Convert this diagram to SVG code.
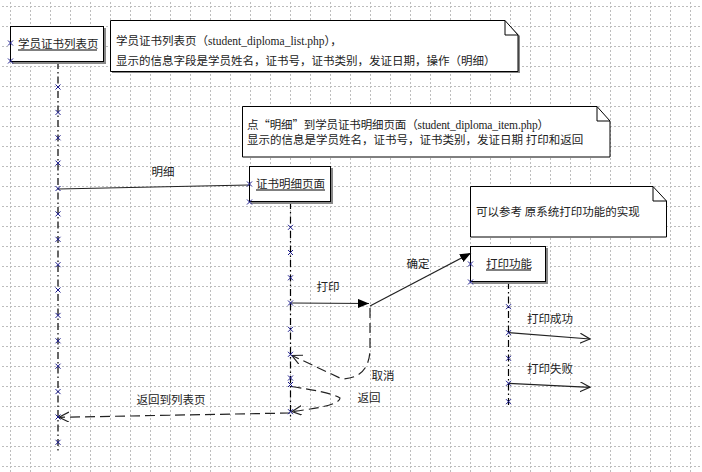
<svg xmlns="http://www.w3.org/2000/svg" width="702" height="472" viewBox="0 0 702 472">
<style>
text{font-family:"Liberation Serif","Noto Sans CJK SC",serif;font-size:11.5px;fill:#222}
.cjk{font-family:"Noto Sans CJK SC",sans-serif}
.box{fill:#fff;stroke:#000;stroke-width:1}
.shadow{fill:#888;stroke:none}
.ul{stroke:#555;stroke-width:1.5}
.life{stroke:#000;stroke-width:1.2;stroke-dasharray:7 3 1.5 3;fill:none}
.msg{stroke:#222;stroke-width:1.2;fill:none}
.dash{stroke:#222;stroke-width:1.2;fill:none;stroke-dasharray:10 5}
.lbl{text-anchor:middle}
</style>
<defs>
<pattern id="grid" patternUnits="userSpaceOnUse" x="10" y="6" width="20" height="20">
<path d="M0.5,0 V20" stroke="#bdbdbd" stroke-width="1" stroke-dasharray="2 2"/>
<path d="M0,0.5 H20" stroke="#bdbdbd" stroke-width="1" stroke-dasharray="2 2"/>
</pattern>
<path id="x" d="M-2.5,-2.5 L2.5,2.5 M2.5,-2.5 L-2.5,2.5" stroke="#1a1a8c" stroke-width="1" fill="none"/>
<marker id="fill" markerUnits="userSpaceOnUse" markerWidth="12" markerHeight="10" refX="11" refY="4.5" orient="auto">
<path d="M0,0 L11,4.5 L0,9 Z" fill="#000"/>
</marker>
<marker id="open" markerUnits="userSpaceOnUse" markerWidth="12" markerHeight="12" refX="10" refY="5" orient="auto">
<path d="M0,0 L10,5 L0,10" fill="none" stroke="#222" stroke-width="1.2"/>
</marker>
</defs>
<rect width="702" height="472" fill="#fff"/>
<rect width="702" height="472" fill="url(#grid)"/>

<g id="lifelines">
<line class="life" x1="58" y1="62" x2="58" y2="452"/>
<line class="life" x1="290.5" y1="202" x2="290.5" y2="420"/>
<line class="life" x1="508.5" y1="282" x2="508.5" y2="408"/>
</g>

<g id="node-list">
<rect class="shadow" x="12" y="28" width="94" height="36"/>
<rect class="box" x="10.5" y="26.5" width="93" height="35"/>
<text x="18" y="48">学员证书列表页</text>
<line class="ul" x1="18" y1="50" x2="97" y2="50"/>
</g>

<g id="node-item">
<rect class="shadow" x="251" y="168" width="82" height="36"/>
<rect class="box" x="249.5" y="166.5" width="81" height="35"/>
<text x="256" y="188">证书明细页面</text>
<line class="ul" x1="256" y1="190" x2="325" y2="190"/>
</g>

<g id="node-print">
<rect class="shadow" x="472" y="248" width="76" height="36"/>
<rect class="box" x="470.5" y="246.5" width="75" height="35"/>
<text x="486" y="268">打印功能</text>
<line class="ul" x1="486" y1="270" x2="531" y2="270"/>
</g>

<g id="note1">
<path class="shadow" d="M112,23 H507 L520,36 V73 H112 Z"/>
<path class="box" d="M110.5,20.5 H505 L518,35 V71.5 H110.5 Z"/>
<path d="M505,20.5 V35 H518" fill="none" stroke="#000"/>
<text x="116" y="45">学员证书列表页（student_diploma_list.php），</text>
<text x="116" y="65">显示的信息字段是学员姓名，证书号，证书类别，发证日期，操作（明细）</text>
</g>

<g id="note2">
<path class="box" d="M242.5,106.5 H597 L610,121 V157 H242.5 Z"/>
<path d="M597,106.5 V121 H610" fill="none" stroke="#000"/>
<text x="247" y="129" textLength="302" lengthAdjust="spacing">点<tspan class="cjk">“</tspan>明细<tspan class="cjk">”</tspan>到学员证书明细页面（student_diploma_item.php）</text>
<text x="247" y="143.5">显示的信息是学员姓名，证书号，证书类别，发证日期 打印和返回</text>
</g>

<g id="note3">
<path class="box" d="M470.5,186.5 H653 L666.5,201 V237 H470.5 Z"/>
<path d="M653,186.5 V201 H666.5" fill="none" stroke="#000"/>
<text x="476" y="216">可以参考 原系统打印功能的实现</text>
</g>

<g id="connectors">
<line class="msg" x1="58" y1="189" x2="249" y2="185"/>
<text class="lbl" x="163" y="176">明细</text>
<line class="msg" x1="290.5" y1="303" x2="369" y2="303.5" marker-end="url(#fill)"/>
<text class="lbl" x="328" y="291">打印</text>
<line class="msg" x1="370" y1="306" x2="471" y2="253" marker-end="url(#fill)"/>
<text class="lbl" x="418" y="268">确定</text>
<path class="dash" d="M370,308 L370,350 Q369,378 342,379 L292,355.5" marker-end="url(#open)"/>
<text class="lbl" x="383" y="380">取消</text>
<path class="dash" d="M291,386.5 Q330,392 340,398 Q340,406 292,411.5" marker-end="url(#open)"/>
<text class="lbl" x="369" y="402">返回</text>
<line class="dash" x1="290" y1="413" x2="59" y2="417.3" marker-end="url(#open)"/>
<text class="lbl" x="171" y="404">返回到列表页</text>
<line class="msg" x1="508.5" y1="332.7" x2="590" y2="339" marker-end="url(#open)"/>
<text class="lbl" x="550" y="323">打印成功</text>
<line class="msg" x1="508.5" y1="383.3" x2="590" y2="387.3" marker-end="url(#open)"/>
<text class="lbl" x="550" y="373">打印失败</text>
</g>

<g id="markers">
<use href="#x" x="10.5" y="43"/><use href="#x" x="10.5" y="61"/>
<use href="#x" x="249.5" y="184"/><use href="#x" x="249.5" y="202"/>
<use href="#x" x="470.5" y="264"/><use href="#x" x="470.5" y="282"/>
<use href="#x" x="58" y="87"/><use href="#x" x="58" y="112.4"/><use href="#x" x="58" y="137.8"/><use href="#x" x="58" y="163.1"/><use href="#x" x="58" y="188.5"/><use href="#x" x="58" y="213.9"/><use href="#x" x="58" y="239.3"/><use href="#x" x="58" y="264.7"/><use href="#x" x="58" y="290"/><use href="#x" x="58" y="315.4"/><use href="#x" x="58" y="340.8"/><use href="#x" x="58" y="366.2"/><use href="#x" x="58" y="391.6"/><use href="#x" x="58" y="417"/><use href="#x" x="58" y="442.3"/>
<use href="#x" x="290.5" y="227.3"/><use href="#x" x="290.5" y="252.5"/><use href="#x" x="290.5" y="277.8"/><use href="#x" x="290.5" y="303"/><use href="#x" x="290.5" y="329.3"/><use href="#x" x="290.5" y="354.3"/><use href="#x" x="290.5" y="378"/><use href="#x" x="290.5" y="384.5"/><use href="#x" x="290.5" y="411.7"/>
<use href="#x" x="508.5" y="306.7"/><use href="#x" x="508.5" y="332.7"/><use href="#x" x="508.5" y="358.3"/><use href="#x" x="508.5" y="383.3"/><use href="#x" x="508.5" y="401.7"/>
</g>
</svg>
